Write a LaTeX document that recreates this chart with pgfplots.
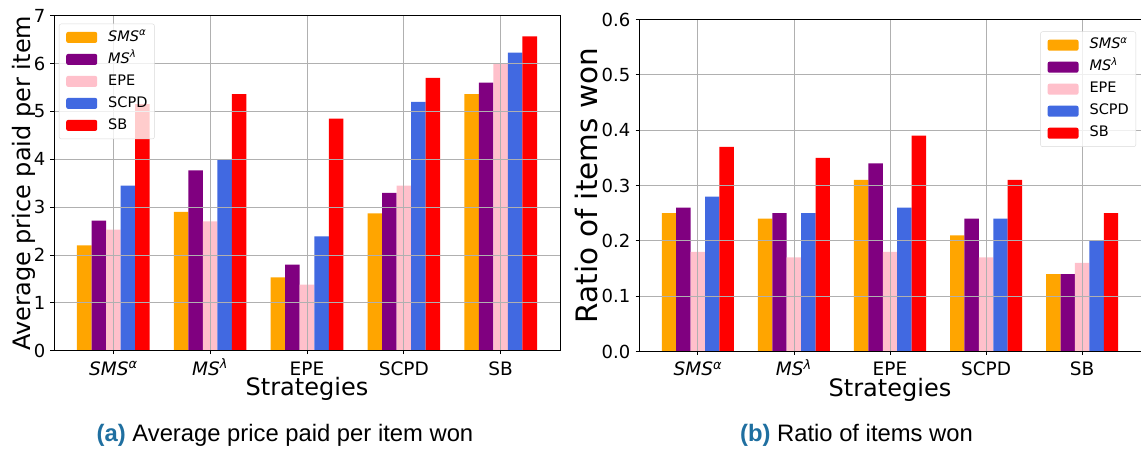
\documentclass[border=0pt]{standalone}
\usepackage{pgfplots}
\pgfplotsset{compat=1.18}
\usepackage{fontspec}
\setmainfont{DejaVu Sans}
\newfontfamily\capfont{Liberation Sans}
\definecolor{cOrange}{HTML}{FFA500}
\definecolor{cPurple}{HTML}{800080}
\definecolor{cPink}{HTML}{FFC0CB}
\definecolor{cBlue}{HTML}{4169E1}
\definecolor{cRed}{HTML}{FF0000}
\definecolor{capblue}{RGB}{31,111,160}
\definecolor{gridgray}{HTML}{B0B0B0}
\newcommand{\smsa}{\textit{SMS}\textsuperscript{\textit{α}}}
\newcommand{\msl}{\textit{MS}\textsuperscript{\textit{λ}}}
\pgfplotsset{
  mybars/.style={
    scale only axis, axis on top,
    xmin=-0.6125, xmax=4.6125,
    xtick={0,1,2,3,4},
    xticklabels={\smsa,\msl,EPE,SCPD,SB},
    ymin=0,
    xtick pos=bottom, ytick pos=left,
    grid=major,
    major grid style={gridgray, line width=0.8pt},
    axis line style={black, line width=0.8pt},
    tick align=outside, major tick length=3.5pt,
    tick style={black, line width=0.8pt},
    /pgf/number format/assume math mode=true,
    xticklabel style={font=\fontsize{18.5}{18.5}\selectfont, anchor=base, inner sep=0pt, yshift=-21pt},
    yticklabel style={font=\fontsize{18}{18}\selectfont, anchor=east, inner sep=0pt, xshift=-5pt},
    xlabel={Strategies},
    xlabel style={font=\fontsize{24}{24}\selectfont, at={(axis description cs:0.5,0)}, anchor=base, inner sep=0pt, yshift=-45pt},
    legend image code/.code={\fill[##1, fill opacity=1] (0pt,-5.5pt) rectangle (31pt,5.5pt);},
    legend cell align=left,
    legend style={font=\fontsize{14.5}{16}\selectfont, draw=black!15, rounded corners=2pt,
      fill=white, fill opacity=0.8, draw opacity=1, text opacity=1,
      inner xsep=7pt, inner ysep=2.5pt,
      nodes={text height=11pt, text depth=3.5pt, inner ysep=3.75pt, inner xsep=0pt, anchor=west},
      /tikz/every odd column/.append style={column sep=11pt}},
  },
  b1/.style={ybar, bar width=0.15, bar shift=-0.3, fill=cOrange, draw=none},
  b2/.style={ybar, bar width=0.15, bar shift=-0.15, fill=cPurple, draw=none},
  b3/.style={ybar, bar width=0.15, bar shift=0, fill=cPink, draw=none},
  b4/.style={ybar, bar width=0.15, bar shift=0.15, fill=cBlue, draw=none},
  b5/.style={ybar, bar width=0.15, bar shift=0.3, fill=cRed, draw=none},
}
\begin{document}
\begin{tikzpicture}
\path[use as bounding box] (0pt,0pt) rectangle (1141pt,449pt);
\begin{axis}[mybars, at={(54pt,98.3pt)}, anchor=south west,
  width=506pt, height=335pt, ymax=7, ytick={0,1,2,3,4,5,6,7},
  ylabel={Average price paid per item},
  ylabel style={font=\fontsize{24}{24}\selectfont, at={(axis description cs:0,0.5)}, anchor=center, yshift=30pt},
  legend style={at={(axis description cs:0,1)}, anchor=north west, xshift=5pt, yshift=-8pt}]
\addplot[b1] coordinates {(0,2.20) (1,2.90) (2,1.53) (3,2.87) (4,5.36)};
\addplot[b2] coordinates {(0,2.72) (1,3.77) (2,1.80) (3,3.30) (4,5.60)};
\addplot[b3] coordinates {(0,2.53) (1,2.70) (2,1.38) (3,3.45) (4,6.00)};
\addplot[b4] coordinates {(0,3.45) (1,4.00) (2,2.39) (3,5.20) (4,6.23)};
\addplot[b5] coordinates {(0,5.15) (1,5.36) (2,4.85) (3,5.70) (4,6.57)};
\legend{\smsa,\msl,EPE,SCPD,SB}
\end{axis}
\begin{axis}[mybars, at={(639pt,97.5pt)}, anchor=south west,
  width=502pt, height=332pt, ymax=0.6, ytick={0,0.1,0.2,0.3,0.4,0.5,0.6},
  yticklabel={\pgfmathprintnumber[fixed,fixed zerofill,precision=1]{\tick}},
  ylabel={Ratio of items won},
  ylabel style={font=\fontsize{29.5}{29.5}\selectfont, at={(axis description cs:0,0.5)}, anchor=center, yshift=53pt},
  legend style={at={(axis description cs:1,1)}, anchor=north east, xshift=-5pt, yshift=-12pt}]
\addplot[b1] coordinates {(0,0.25) (1,0.24) (2,0.31) (3,0.21) (4,0.14)};
\addplot[b2] coordinates {(0,0.26) (1,0.25) (2,0.34) (3,0.24) (4,0.14)};
\addplot[b3] coordinates {(0,0.18) (1,0.17) (2,0.18) (3,0.17) (4,0.16)};
\addplot[b4] coordinates {(0,0.28) (1,0.25) (2,0.26) (3,0.24) (4,0.20)};
\addplot[b5] coordinates {(0,0.37) (1,0.35) (2,0.39) (3,0.31) (4,0.25)};
\legend{\smsa,\msl,EPE,SCPD,SB}
\end{axis}
\node[anchor=base, inner sep=0pt, font=\capfont\fontsize{23.8}{23.8}\selectfont] at (285pt,7.5pt) {\textcolor{capblue}{\bfseries(a)} Average price paid per item won};
\node[anchor=base, inner sep=0pt, font=\capfont\fontsize{23.8}{23.8}\selectfont] at (856.5pt,7.5pt) {\textcolor{capblue}{\bfseries(b)} Ratio of items won};
\end{tikzpicture}
\end{document}
